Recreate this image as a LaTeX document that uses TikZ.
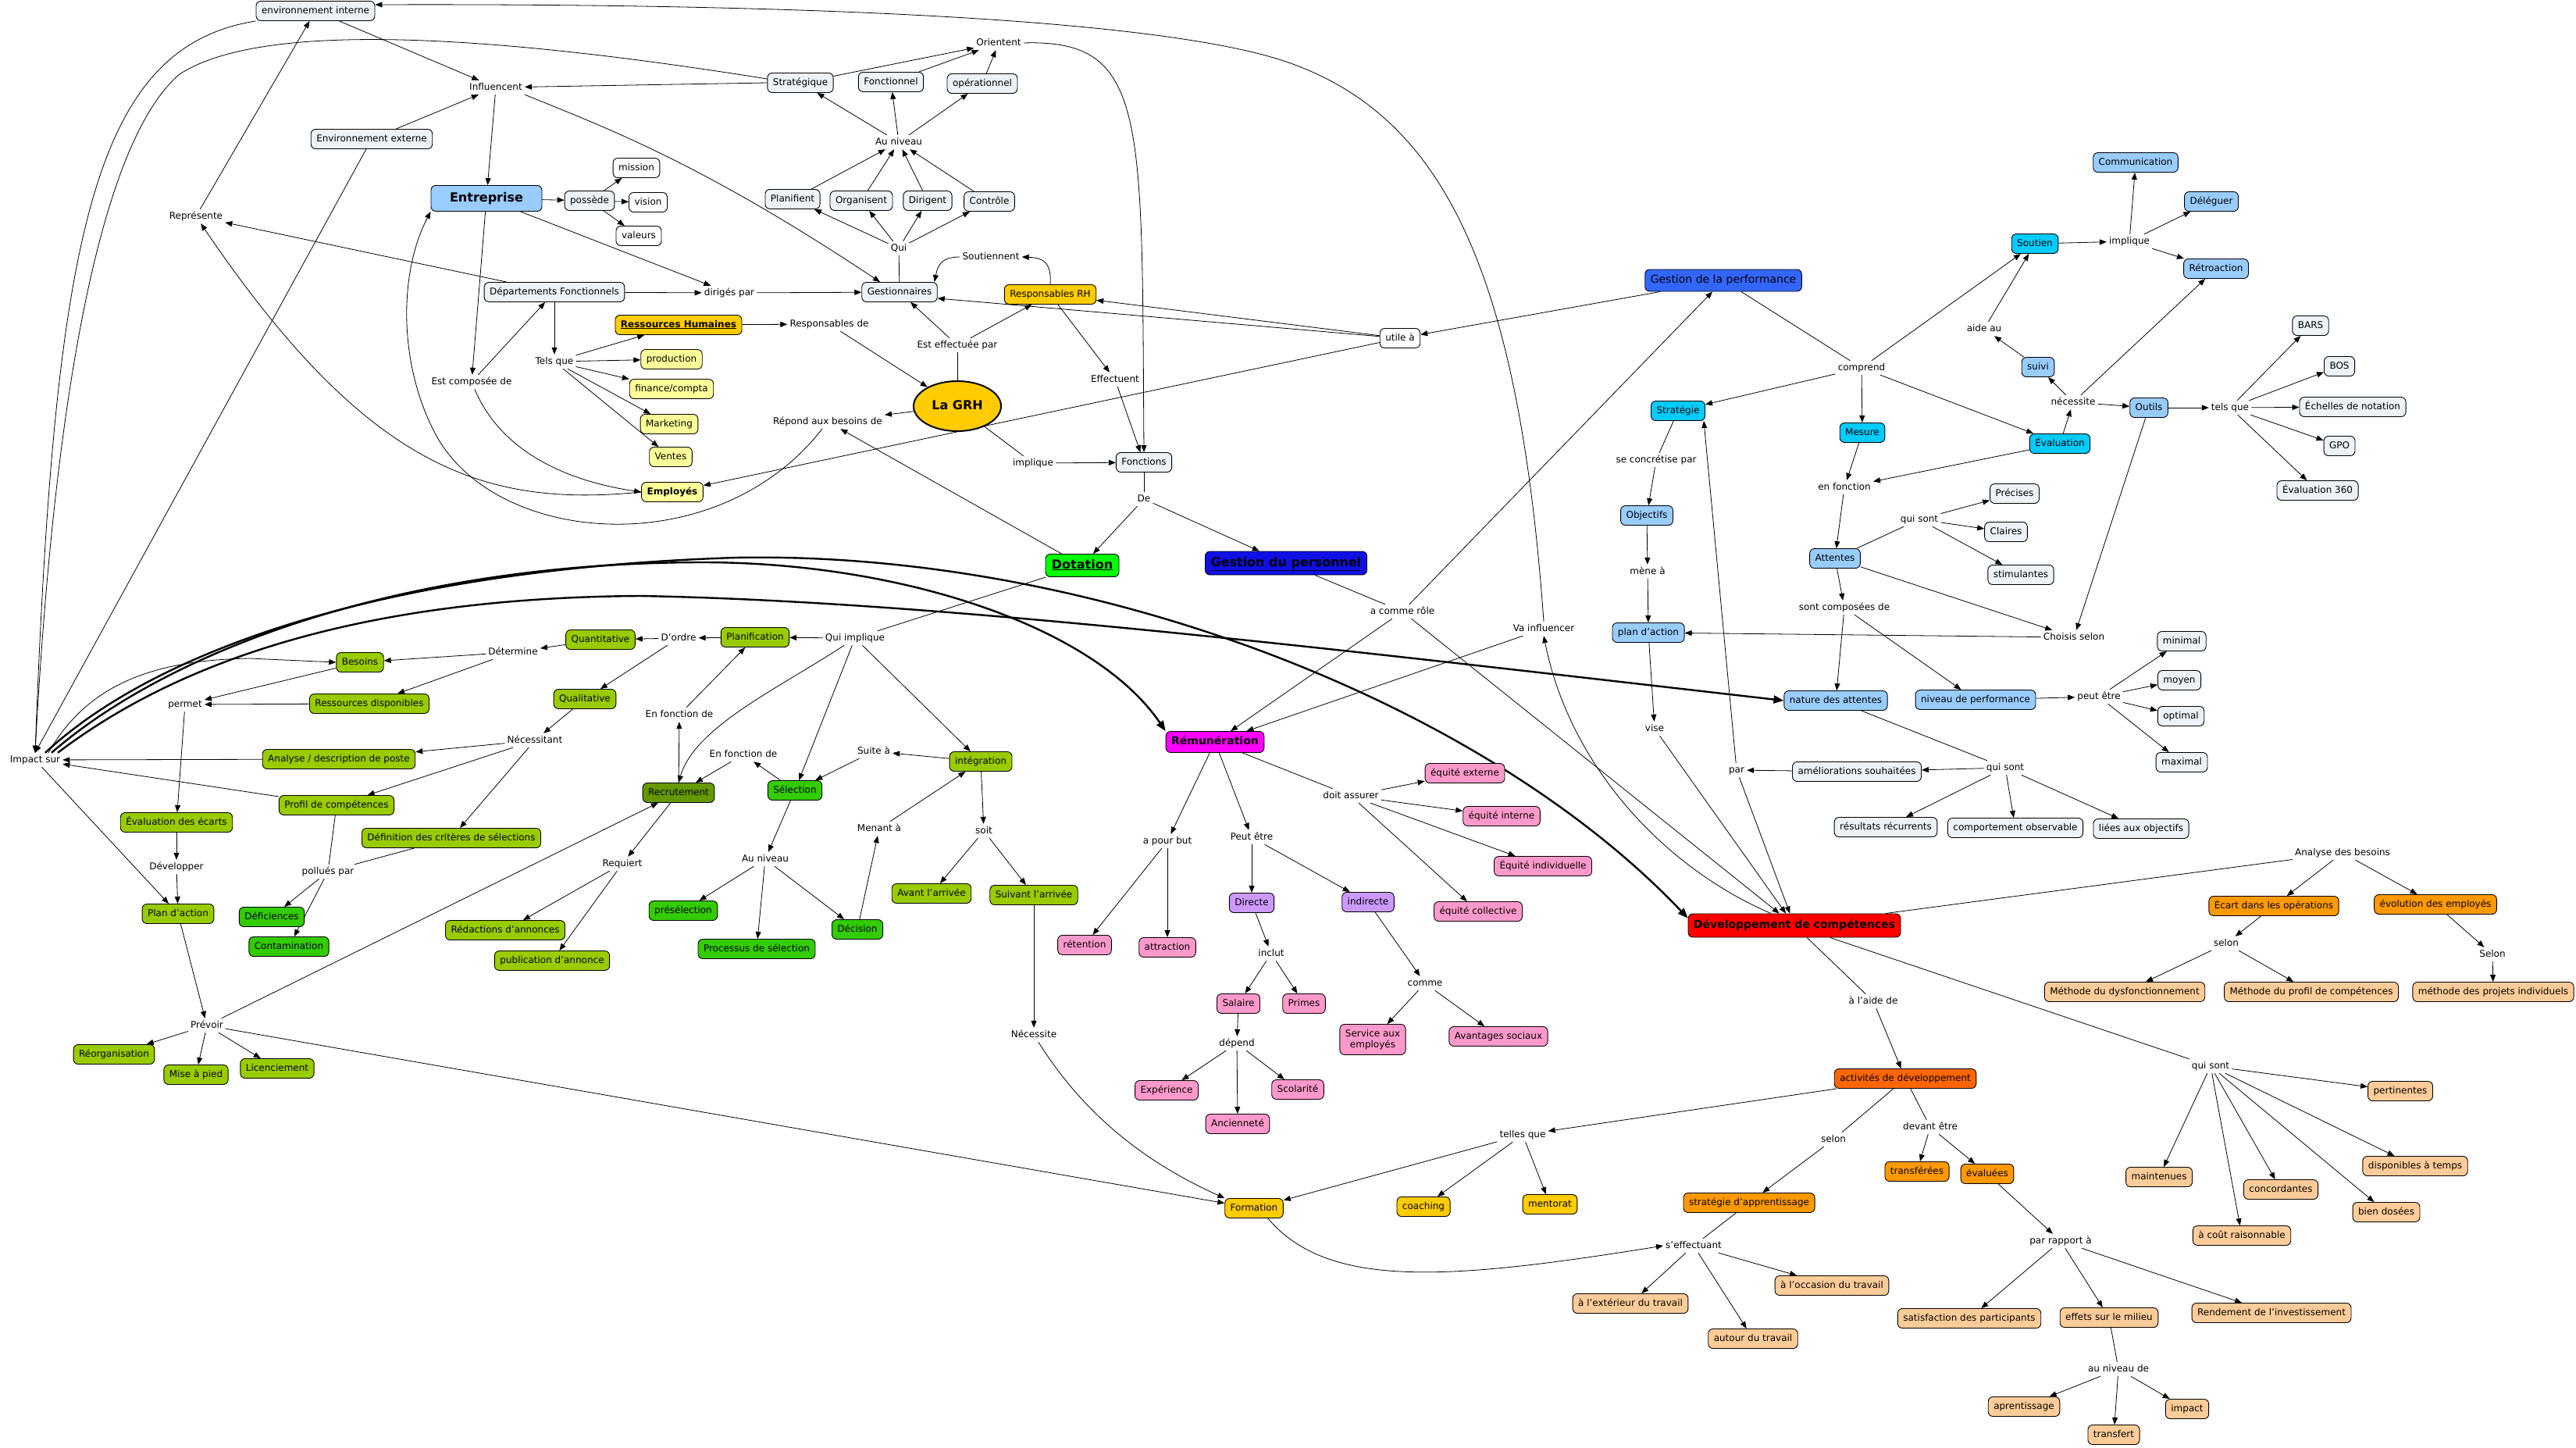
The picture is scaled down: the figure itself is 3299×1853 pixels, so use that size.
\documentclass[tikz,border=0pt]{standalone}
\usepackage{fontspec}
\setmainfont{DejaVu Sans}
\usetikzlibrary{arrows.meta,shapes.geometric}
\pgfdeclarelayer{bg}
\pgfsetlayers{bg,main}

\definecolor{cgray}{RGB}{236,242,245}
\definecolor{cltblue}{RGB}{153,204,255}
\definecolor{cyellow}{RGB}{255,255,153}
\definecolor{cgold}{RGB}{255,204,0}
\definecolor{cyg}{RGB}{153,204,0}
\definecolor{cgreen}{RGB}{51,204,0}
\definecolor{cdkgreen}{RGB}{102,153,0}
\definecolor{cbright}{RGB}{0,255,0}
\definecolor{cnavy}{RGB}{16,16,230}
\definecolor{cperf}{RGB}{51,102,255}
\definecolor{ccyan}{RGB}{0,204,255}
\definecolor{cmagenta}{RGB}{255,0,255}
\definecolor{cred}{RGB}{255,0,0}
\definecolor{cpink}{RGB}{255,153,204}
\definecolor{cpurple}{RGB}{204,153,255}
\definecolor{corange}{RGB}{255,153,0}
\definecolor{cdkorange}{RGB}{255,102,0}
\definecolor{cpeach}{RGB}{255,204,153}

\begin{document}
\begin{tikzpicture}[x=1pt, y=-1pt,
  cpt/.style={draw, rounded corners=6pt, line width=0.9pt, fill=cgray, inner xsep=7pt, inner ysep=6.5pt,
    text height=9pt, text depth=3pt, font=\fontsize{12pt}{14pt}\selectfont},
  lnk/.style={inner sep=3pt, text height=9pt, text depth=3pt, font=\fontsize{12pt}{14pt}\selectfont},
  hdr/.style={font=\bfseries\fontsize{16pt}{18pt}\selectfont, text height=12pt, text depth=4pt},
  mid/.style={font=\fontsize{14pt}{16pt}\selectfont, text height=10.5pt, text depth=3.5pt},
  midb/.style={font=\bfseries\fontsize{14pt}{16pt}\selectfont, text height=10.5pt, text depth=3.5pt},
  arr/.style={line width=0.8pt, -{Triangle[length=9pt,width=7pt]}},
  ln/.style={line width=0.8pt},
  big/.style={line width=2.4pt, -{Triangle[length=13pt,width=10pt]}}]
  \useasboundingbox (0,0) rectangle (3299,1853);

  % Entreprise
  \node[cpt] (envint) at (404,14) {environnement interne};
  \node[lnk] (influ) at (635,112) {Influencent};
  \node[cpt] (envext) at (476,178) {Environnement externe};
  \node[lnk] (repr) at (251,277) {Représente};
  \node[cpt, fill=cltblue, hdr, minimum width=142pt, minimum height=33pt] (entr) at (623,254) {Entreprise};
  \node[cpt] (possede) at (755,257) {possède};
  \node[cpt, fill=white] (mission) at (815,215) {mission};
  \node[cpt, fill=white] (vision) at (830,259) {vision};
  \node[cpt, fill=white] (valeurs) at (818,302) {valeurs};
  \node[cpt] (depf) at (710,374) {Départements Fonctionnels};
  \node[lnk] (diriges) at (934,375) {dirigés par};
  \node[lnk] (telsque) at (710,463) {Tels que};
  \node[lnk] (estcomp) at (604,489) {Est composée de};
  \node[cpt, fill=cgold, font=\bfseries\fontsize{12pt}{14pt}\selectfont] (rh) at (869,416) {\underline{Ressources Humaines}};
  \node[cpt, fill=cyellow] (prod) at (860,460) {production};
  \node[cpt, fill=cyellow] (fin) at (860,498) {finance/compta};
  \node[cpt, fill=cyellow] (mkt) at (857,543) {Marketing};
  \node[cpt, fill=cyellow] (ventes) at (859,585) {Ventes};
  \node[cpt, fill=cyellow, font=\bfseries\fontsize{12pt}{14pt}\selectfont] (employes) at (861,630) {Employés};

  % Gestionnaires et GRH
  \node[lnk] (orientent) at (1279,55) {Orientent};
  \node[cpt] (strat) at (1025,106) {Stratégique};
  \node[cpt] (fonct) at (1141,105) {Fonctionnel};
  \node[cpt] (oper) at (1258,107) {opérationnel};
  \node[lnk] (auniv) at (1151,182) {Au niveau};
  \node[cpt] (planif) at (1015,255) {Planifient};
  \node[cpt] (organ) at (1103,257) {Organisent};
  \node[cpt] (dirig) at (1188,257) {Dirigent};
  \node[cpt] (contr) at (1267,258) {Contrôle};
  \node[lnk] (qui) at (1151,318) {Qui};
  \node[lnk] (soutn) at (1269,329) {Soutiennent};
  \node[cpt] (gest) at (1152,374) {Gestionnaires};
  \node[cpt, fill=cgold] (resprh) at (1345,377) {Responsables RH};
  \node[lnk] (respde) at (1062,415) {Responsables de};
  \node[lnk] (effpar) at (1226,442) {Est effectuée par};
  \node[ellipse, draw, line width=2pt, fill=cgold, hdr, minimum width=112pt, minimum height=64pt, inner sep=0pt] (grh) at (1226,520) {La GRH};
  \node[lnk] (effect) at (1428,486) {Effectuent};
  \node[lnk] (repond) at (1060,540) {Répond aux besoins de};
  \node[lnk] (impl) at (1323,593) {implique};
  \node[cpt] (fonctions) at (1465,592) {Fonctions};
  \node[lnk] (de) at (1465,639) {De};
  \node[cpt, fill=cbright, hdr, minimum width=94pt, minimum height=28pt] (dotation) at (1386,724) {\underline{Dotation}};
  \node[cpt, fill=cnavy, hdr, minimum width=207pt, minimum height=30pt] (gestpers) at (1647,721) {\underline{Gestion du personnel}};

  % Gestion de la performance
  \node[cpt, fill=white] (utile) at (1793,433) {utile à};
  \node[cpt, fill=cperf, mid, minimum height=28pt] (gdp) at (2207,359) {Gestion de la performance};
  \node[lnk] (comprend) at (2384,471) {comprend};
  \node[cpt, fill=ccyan] (strategie) at (2149,526) {Stratégie};
  \node[cpt, fill=ccyan] (mesure) at (2385,554) {Mesure};
  \node[lnk] (concret) at (2121,589) {se concrétise par};
  \node[cpt, fill=cltblue] (comm) at (2735,208) {Communication};
  \node[cpt, fill=cltblue] (deleg) at (2832,258) {Déléguer};
  \node[cpt, fill=ccyan] (soutien) at (2606,312) {Soutien};
  \node[lnk] (implique2) at (2727,309) {implique};
  \node[cpt, fill=cltblue] (retro) at (2838,344) {Rétroaction};
  \node[lnk] (aide) at (2541,421) {aide au};
  \node[cpt, fill=cltblue] (suivi) at (2610,470) {suivi};
  \node[lnk] (necess) at (2655,515) {nécessite};
  \node[cpt, fill=cltblue] (outils) at (2752,522) {Outils};
  \node[lnk] (telsque2) at (2856,522) {tels que};
  \node[cpt] (bars) at (2959,417) {BARS};
  \node[cpt] (bos) at (2996,469) {BOS};
  \node[cpt] (echelles) at (3013,521) {Échelles de notation};
  \node[cpt] (gpo) at (2996,571) {GPO};
  \node[cpt, fill=ccyan] (eval) at (2638,568) {Évaluation};
  \node[cpt] (eval360) at (2968,628) {Évaluation 360};
  \node[cpt, fill=cltblue] (objectifs) at (2109,660) {Objectifs};
  \node[lnk] (menea) at (2110,732) {mène à};
  \node[cpt, fill=cltblue] (planaction2) at (2111,810) {plan d'action};
  \node[lnk] (vise) at (2119,933) {vise};
  \node[lnk] (enfonction) at (2362,624) {en fonction};
  \node[lnk] (quisont1) at (2458,665) {qui sont};
  \node[cpt, fill=cltblue] (attentes) at (2350,715) {Attentes};
  \node[lnk] (composees) at (2362,778) {sont composées de};
  \node[cpt] (precises) at (2580,632) {Précises};
  \node[cpt] (claires) at (2569,681) {Claires};
  \node[cpt] (stimul) at (2588,736) {stimulantes};
  \node[lnk] (choisis) at (2656,816) {Choisis selon};
  \node[cpt, fill=cltblue] (nature) at (2351,897) {nature des attentes};
  \node[cpt, fill=cltblue] (niveau) at (2530,896) {niveau de performance};
  \node[lnk] (peutetre2) at (2688,892) {peut être};
  \node[cpt] (minimal) at (2794,821) {minimal};
  \node[cpt] (moyen) at (2791,871) {moyen};
  \node[cpt] (optimal) at (2793,917) {optimal};
  \node[cpt] (maximal) at (2794,976) {maximal};
  \node[lnk] (par) at (2224,986) {par};
  \node[cpt] (amelio) at (2378,988) {améliorations souhaitées};
  \node[lnk] (quisont2) at (2568,983) {qui sont};
  \node[cpt] (resultats) at (2415,1059) {résultats récurrents};
  \node[cpt] (comport) at (2581,1060) {comportement observable};
  \node[cpt] (liees) at (2742,1061) {liées aux objectifs};
  \node[lnk] (acomme) at (1796,783) {a comme rôle};
  \node[lnk] (vainfl) at (1977,805) {Va influencer};

  % Dotation
  \node[lnk] (impact) at (45,973) {Impact sur};
  \node[cpt, fill=cyg] (quanti) at (769,819) {Quantitative};
  \node[lnk] (determ) at (657,835) {Détermine};
  \node[cpt, fill=cyg] (besoins) at (461,848) {Besoins};
  \node[lnk] (permet) at (237,902) {permet};
  \node[cpt, fill=cyg] (ressdisp) at (473,901) {Ressources disponibles};
  \node[cpt, fill=cyg] (quali) at (749,895) {Qualitative};
  \node[lnk] (necessitant) at (685,948) {Nécessitant};
  \node[cpt, fill=cyg] (analyse) at (434,972) {Analyse / description de poste};
  \node[cpt, fill=cyg] (profil) at (431,1031) {Profil de compétences};
  \node[cpt, fill=cyg] (evalecarts) at (226,1053) {Évaluation des écarts};
  \node[cpt, fill=cyg] (definition) at (578,1073) {Définition des critères de sélections};
  \node[lnk] (develop) at (226,1110) {Développer};
  \node[lnk] (pollues) at (420,1116) {pollués par};
  \node[cpt, fill=cyg] (planaction) at (228,1170) {Plan d'action};
  \node[cpt, fill=cgreen] (deficiences) at (348,1174) {Déficiences};
  \node[cpt, fill=cgreen] (contamination) at (370,1212) {Contamination};
  \node[lnk] (requiert) at (797,1106) {Requiert};
  \node[cpt, fill=cyg] (redactions) at (647,1191) {Rédactions d'annonces};
  \node[cpt, fill=cyg] (publication) at (707,1230) {publication d'annonce};
  \node[cpt, fill=cdkgreen] (recrutement) at (869,1015) {Recrutement};
  \node[lnk] (dordre) at (869,817) {D'ordre};
  \node[cpt, fill=cyg] (planification) at (967,816) {Planification};
  \node[lnk] (quiimpl) at (1095,817) {Qui implique};
  \node[lnk] (enfonc1) at (870,915) {En fonction de};
  \node[lnk] (enfonc2) at (952,966) {En fonction de};
  \node[lnk] (suitea) at (1119,962) {Suite à};
  \node[cpt, fill=cyg] (integration) at (1256,975) {intégration};
  \node[cpt, fill=cgreen] (selection) at (1018,1012) {Sélection};
  \node[lnk] (menant) at (1126,1061) {Menant à};
  \node[lnk] (soit) at (1260,1064) {soit};
  \node[lnk] (auniv2) at (980,1100) {Au niveau};
  \node[cpt, fill=cyg] (avant) at (1193,1144) {Avant l'arrivée};
  \node[cpt, fill=cyg] (suivant) at (1324,1146) {Suivant l'arrivée};
  \node[cpt, fill=cgreen] (preselection) at (875,1166) {présélection};
  \node[cpt, fill=cgreen] (processus) at (969,1215) {Processus de sélection};
  \node[cpt, fill=cgreen] (decision) at (1098,1190) {Décision};
  \node[lnk] (prevoir) at (265,1313) {Prévoir};
  \node[cpt, fill=cyg] (reorg) at (146,1350) {Réorganisation};
  \node[cpt, fill=cyg] (miseapied) at (251,1376) {Mise à pied};
  \node[cpt, fill=cyg] (licenc) at (355,1368) {Licenciement};
  \node[lnk] (necessite3) at (1324,1325) {Nécessite};

  % Remuneration
  \node[cpt, fill=cmagenta, midb] (remun) at (1556,950) {Rémunération};
  \node[lnk] (apourbut) at (1495,1077) {a pour but};
  \node[lnk] (peutetre) at (1603,1072) {Peut être};
  \node[cpt, fill=cpurple] (directe) at (1603,1156) {Directe};
  \node[lnk] (inclut) at (1628,1221) {inclut};
  \node[cpt, fill=cpink] (retention) at (1389,1210) {rétention};
  \node[cpt, fill=cpink] (attraction) at (1495,1213) {attraction};
  \node[cpt, fill=cpink] (eqext) at (1876,990) {équité externe};
  \node[lnk] (doitass) at (1730,1019) {doit assurer};
  \node[cpt, fill=cpink] (eqint) at (1923,1045) {équité interne};
  \node[cpt, fill=cpink] (eqind) at (1976,1109) {Équité individuelle};
  \node[cpt, fill=cpink] (eqcoll) at (1893,1167) {équité collective};
  \node[cpt, fill=cpurple] (indirecte) at (1752,1155) {indirecte};
  \node[cpt, fill=cpink] (salaire) at (1586,1285) {Salaire};
  \node[cpt, fill=cpink] (primes) at (1670,1285) {Primes};
  \node[lnk] (depend) at (1584,1336) {dépend};
  \node[cpt, fill=cpink] (experience) at (1494,1396) {Expérience};
  \node[cpt, fill=cpink] (scolarite) at (1662,1395) {Scolarité};
  \node[cpt, fill=cpink] (anciennete) at (1585,1439) {Ancienneté};
  \node[lnk] (comme) at (1825,1259) {comme};
  \node[cpt, fill=cpink, align=center, text height=23pt, text depth=3pt] (service) at (1758,1331) {Service aux\\employés};
  \node[cpt, fill=cpink] (avantages) at (1919,1327) {Avantages sociaux};

  % Developpement de competences
  \node[cpt, fill=cred, midb, minimum height=30pt] (devcomp) at (2298,1185) {Développement de compétences};
  \node[lnk] (alaide) at (2399,1282) {à l'aide de};
  \node[cpt, fill=cdkorange] (activites) at (2440,1381) {activités de développement};
  \node[lnk] (tellesque) at (1950,1453) {telles que};
  \node[lnk] (selon3) at (2348,1459) {selon};
  \node[lnk] (devant) at (2472,1443) {devant être};
  \node[cpt, fill=cgold] (formation) at (1606,1547) {Formation};
  \node[cpt, fill=cgold] (coaching) at (1823,1545) {coaching};
  \node[cpt, fill=cgold] (mentorat) at (1985,1542) {mentorat};
  \node[cpt, fill=corange] (stratapp) at (2240,1540) {stratégie d'apprentissage};
  \node[cpt, fill=corange] (transferees) at (2455,1500) {transférées};
  \node[cpt, fill=corange] (evaluees) at (2545,1503) {évaluées};
  \node[lnk] (seffect) at (2169,1595) {s'effectuant};
  \node[cpt, fill=cpeach] (occasion) at (2346,1646) {à l'occasion du travail};
  \node[cpt, fill=cpeach] (exterieur) at (2088,1669) {à l'extérieur du travail};
  \node[cpt, fill=cpeach] (autour) at (2245,1714) {autour du travail};
  \node[lnk] (parrapport) at (2639,1589) {par rapport à};
  \node[cpt, fill=cpeach] (satisf) at (2522,1688) {satisfaction des participants};
  \node[cpt, fill=cpeach] (effets) at (2701,1687) {effets sur le milieu};
  \node[cpt, fill=cpeach] (rendement) at (2909,1681) {Rendement de l'investissement};
  \node[lnk] (auniveaude) at (2713,1753) {au niveau de};
  \node[cpt, fill=cpeach] (aprent) at (2592,1801) {aprentissage};
  \node[cpt, fill=cpeach] (impactn) at (2801,1804) {impact};
  \node[cpt, fill=cpeach] (transfert) at (2707,1837) {transfert};
  \node[lnk] (analbes) at (3000,1092) {Analyse des besoins};
  \node[cpt, fill=corange] (ecart) at (2912,1160) {Écart dans les opérations};
  \node[cpt, fill=corange] (evolution) at (3119,1158) {évolution des employés};
  \node[lnk] (selon1) at (2851,1208) {selon};
  \node[lnk] (selon2) at (3192,1222) {Selon};
  \node[cpt, fill=cpeach] (methdys) at (2721,1270) {Méthode du dysfonctionnement};
  \node[cpt, fill=cpeach] (methprof) at (2960,1270) {Méthode du profil de compétences};
  \node[cpt, fill=cpeach] (methproj) at (3193,1270) {méthode des projets individuels};
  \node[lnk] (quisont3) at (2831,1365) {qui sont};
  \node[cpt, fill=cpeach] (pertinentes) at (3074,1397) {pertinentes};
  \node[cpt, fill=cpeach] (maintenues) at (2765,1507) {maintenues};
  \node[cpt, fill=cpeach] (disponibles) at (3093,1493) {disponibles à temps};
  \node[cpt, fill=cpeach] (concordantes) at (2921,1523) {concordantes};
  \node[cpt, fill=cpeach] (biendosees) at (3056,1552) {bien dosées};
  \node[cpt, fill=cpeach] (acout) at (2871,1582) {à coût raisonnable};

  \begin{pgfonlayer}{bg}
  \fill[white] (0,0) rectangle (3299,1853);

  % Entreprise links
  \draw[arr] (envint) -- (influ);
  \draw[arr] (envext) -- (influ);
  \draw[arr] (strat.west) -- (influ);
  \draw[arr] (influ) -- (entr);
  \draw[arr] (influ.south east) .. controls (780,165) and (900,210) .. ([xshift=-25pt]gest.north);
  \draw[arr] (repr) -- (envint);
  \draw[arr] (depf) -- (repr);
  \draw[arr] (employes.west) .. controls (620,650) and (470,600) .. (repr);
  \draw[arr] (entr) -- (possede);
  \foreach \tgt in {mission,vision,valeurs} \draw[arr] (possede) -- (\tgt);
  \draw[arr] (entr) -- (diriges);
  \draw[arr] (depf) -- (diriges);
  \draw[arr] (diriges) -- (gest);
  \draw[arr] (entr) -- (estcomp);
  \draw[arr] (estcomp) -- (depf);
  \draw[arr] (estcomp) .. controls (640,575) and (720,615) .. (employes.west);
  \draw[arr] (depf) -- (telsque);
  \foreach \tgt in {rh,prod,fin,mkt,ventes} \draw[arr] (telsque) -- (\tgt);
  \draw[arr] (rh) -- (respde);
  \draw[arr] (respde) -- (grh);
  \draw[arr] (repond) .. controls (920,720) and (640,700) .. (560,560) .. controls (510,470) and (510,350) .. (entr.south west);

  % into Impact sur
  \draw[arr] (envint.south west) .. controls (120,60) and (70,300) .. (impact.north);
  \draw[arr] ([yshift=5pt]strat.west) .. controls (600,40) and (330,30) .. (230,95) .. controls (130,180) and (70,500) .. (impact.north);
  \draw[arr] (envext) -- (impact.north);
  \draw[arr] (vainfl.north) .. controls (1945,350) and (1850,150) .. (1650,80) .. controls (1450,10) and (800,5) .. ([yshift=8pt]envint.east);

  % Gestionnaires links
  \draw[ln] (gest) -- (qui);
  \foreach \tgt in {planif,organ,dirig,contr} {\draw[arr] (qui) -- (\tgt); \draw[arr] (\tgt) -- (auniv);}
  \foreach \tgt in {strat,fonct,oper} {\draw[arr] (auniv) -- (\tgt); \draw[arr] (\tgt) -- (orientent);}
  \draw[arr] (orientent.east) .. controls (1470,50) and (1462,150) .. (fonctions.north);
  \draw[arr] (resprh.north) .. controls (1347,335) and (1335,330) .. (soutn.east);
  \draw[arr] (soutn.west) .. controls (1205,329) and (1201,340) .. ([xshift=-4pt]gest.north east);
  \draw[ln] (grh) -- (effpar);
  \draw[arr] (effpar) -- (gest);
  \draw[arr] (effpar) -- (resprh);
  \draw[arr] (resprh) -- (effect);
  \draw[arr] (effect) -- (fonctions);
  \draw[arr] (grh) -- (repond);
  \draw[ln] (grh) -- (impl);
  \draw[arr] (impl) -- (fonctions);
  \draw[ln] (fonctions) -- (de);
  \draw[arr] (de) -- (dotation);
  \draw[arr] (de) -- (gestpers);
  \draw[arr] (dotation) -- (repond);
  \draw[arr] (gdp) -- (utile);
  \draw[arr] (utile) -- (resprh);
  \draw[arr] (utile) -- ([yshift=-8pt]gest.east);
  \draw[arr] (utile) -- (employes);

  % Dotation links
  \draw[ln] (dotation) -- (quiimpl);
  \draw[arr] (quiimpl) -- (planification);
  \draw[arr] (quiimpl) .. controls (1000,880) and (890,930) .. (recrutement.north);
  \draw[arr] (quiimpl) -- (selection);
  \draw[arr] (quiimpl) -- (integration);
  \draw[arr] (planification) -- (dordre);
  \draw[arr] (dordre) -- (quanti);
  \draw[arr] (dordre) -- (quali);
  \draw[arr] (quanti) -- (determ);
  \draw[arr] (determ) -- (besoins);
  \draw[arr] (determ) -- (ressdisp);
  \draw[arr] (besoins) -- (permet);
  \draw[arr] (ressdisp) -- (permet);
  \draw[arr] (permet) -- (evalecarts);
  \draw[arr] (evalecarts) -- (develop);
  \draw[arr] (develop) -- (planaction);
  \draw[arr] (quali) -- (necessitant);
  \foreach \tgt in {analyse,profil,definition} \draw[arr] (necessitant) -- (\tgt);
  \draw[arr] (analyse) -- (impact);
  \draw[arr] (profil) -- (impact);
  \draw[arr] (impact) -- (planaction);
  \draw[arr] ([xshift=17pt]impact.north) .. controls (110,880) and (190,845) .. (320,843) -- (besoins.west);
  \draw[ln] (profil) -- (pollues);
  \draw[ln] (definition) -- (pollues);
  \draw[arr] (pollues) -- (deficiences);
  \draw[arr] (pollues) -- (contamination);
  \draw[arr] (planaction) -- (prevoir);
  \foreach \tgt in {reorg,miseapied,licenc,recrutement,formation} \draw[arr] (prevoir) -- (\tgt);
  \draw[arr] (recrutement) -- (enfonc1);
  \draw[arr] (enfonc1) -- (planification);
  \draw[arr] (recrutement) -- (requiert);
  \draw[arr] (requiert) -- (redactions);
  \draw[arr] (requiert) -- (publication);
  \draw[arr] (selection) -- (enfonc2);
  \draw[arr] (enfonc2) -- (recrutement);
  \draw[arr] (integration) -- (suitea);
  \draw[arr] (suitea) -- (selection);
  \draw[arr] (selection) -- (auniv2);
  \foreach \tgt in {preselection,processus,decision} \draw[arr] (auniv2) -- (\tgt);
  \draw[arr] (decision) -- (menant);
  \draw[arr] (menant) -- (integration);
  \draw[arr] (integration) -- (soit);
  \draw[arr] (soit) -- (avant);
  \draw[arr] (soit) -- (suivant);
  \draw[arr] (suivant) -- (necessite3);
  \draw[arr] (necessite3) .. controls (1390,1430) and (1470,1490) .. (formation.north west);

  % thick links from Impact sur
  \draw[big] ([xshift=13pt]impact.north) .. controls (180,850) and (450,730) .. (942,714) .. controls (1400,705) and (1900,900) .. ([yshift=-6pt]devcomp.north west);
  \draw[big] ([xshift=21pt]impact.north) .. controls (220,830) and (520,720) .. (900,720) .. controls (1150,720) and (1400,800) .. (remun.north west);
  \draw[big] ([xshift=29pt]impact.north) .. controls (250,830) and (500,765) .. (820,763) .. controls (1200,770) and (1700,830) .. (nature.west);

  % performance links
  \draw[ln] (gestpers) -- (acomme);
  \draw[arr] (acomme) -- (remun);
  \draw[arr] (acomme) -- (gdp);
  \draw[arr] (acomme) -- (devcomp);
  \draw[arr] ([xshift=-30pt]devcomp.north) .. controls (2130,1110) and (2010,980) .. (vainfl.south);
  \draw[arr] (vainfl) -- (remun);
  \draw[ln] (gdp) -- (comprend);
  \foreach \tgt in {strategie,mesure,eval,soutien} \draw[arr] (comprend) -- (\tgt);
  \draw[ln] (strategie) -- (concret);
  \draw[arr] (concret) -- (objectifs);
  \draw[arr] (objectifs) -- (menea);
  \draw[arr] (menea) -- (planaction2);
  \draw[arr] (planaction2) -- (vise);
  \draw[arr] (vise) -- (devcomp);
  \draw[arr] (par) -- ([xshift=-2pt]strategie.south east);
  \draw[arr] (par) -- (devcomp);
  \draw[arr] (amelio) -- (par);
  \draw[arr] (mesure) -- (enfonction);
  \draw[arr] (eval) -- (enfonction);
  \draw[arr] (enfonction) -- (attentes);
  \draw[ln] (attentes) -- (quisont1);
  \foreach \tgt in {precises,claires,stimul} \draw[arr] (quisont1) -- (\tgt);
  \draw[arr] (attentes) -- (composees);
  \draw[arr] (composees) -- (nature);
  \draw[arr] (composees) -- (niveau);
  \draw[arr] (attentes) -- (choisis);
  \draw[arr] (outils) -- (choisis);
  \draw[arr] (choisis) -- (planaction2);
  \draw[arr] (eval) -- (necess);
  \foreach \tgt in {suivi,outils,retro} \draw[arr] (necess) -- (\tgt);
  \draw[arr] (suivi) -- (aide);
  \draw[arr] (aide) -- (soutien);
  \draw[arr] (soutien) -- (implique2);
  \foreach \tgt in {comm,deleg,retro} \draw[arr] (implique2) -- (\tgt);
  \draw[arr] (outils) -- (telsque2);
  \foreach \tgt in {bars,bos,echelles,gpo,eval360} \draw[arr] (telsque2) -- (\tgt);
  \draw[arr] (niveau) -- (peutetre2);
  \foreach \tgt in {minimal,moyen,optimal,maximal} \draw[arr] (peutetre2) -- (\tgt);
  \draw[ln] (nature) -- (quisont2);
  \foreach \tgt in {amelio,resultats,comport,liees} \draw[arr] (quisont2) -- (\tgt);

  % Remuneration links
  \draw[arr] (remun) -- (apourbut);
  \draw[arr] (apourbut) -- (retention);
  \draw[arr] (apourbut) -- (attraction);
  \draw[arr] (remun) -- (peutetre);
  \draw[arr] (peutetre) -- (directe);
  \draw[arr] (peutetre) -- (indirecte);
  \draw[ln] (remun) -- (doitass);
  \foreach \tgt in {eqext,eqint,eqind,eqcoll} \draw[arr] (doitass) -- (\tgt);
  \draw[arr] (directe) -- (inclut);
  \draw[arr] (inclut) -- (salaire);
  \draw[arr] (inclut) -- (primes);
  \draw[arr] (salaire) -- (depend);
  \foreach \tgt in {experience,anciennete,scolarite} \draw[arr] (depend) -- (\tgt);
  \draw[arr] (indirecte) -- (comme);
  \draw[arr] (comme) -- (service);
  \draw[arr] (comme) -- (avantages);

  % Developpement links
  \draw[ln] (devcomp) -- (alaide);
  \draw[arr] (alaide) -- (activites);
  \draw[arr] (activites) -- (tellesque);
  \foreach \tgt in {formation,coaching,mentorat} \draw[arr] (tellesque) -- (\tgt);
  \draw[ln] (activites) -- (selon3);
  \draw[arr] (selon3) -- (stratapp);
  \draw[ln] (stratapp) -- (seffect);
  \foreach \tgt in {exterieur,autour,occasion} \draw[arr] (seffect) -- (\tgt);
  \draw[arr] ([xshift=-20pt]formation.south east) .. controls (1700,1650) and (1850,1640) .. (seffect.west);
  \draw[ln] (activites) -- (devant);
  \draw[arr] (devant) -- (transferees);
  \draw[arr] (devant) -- (evaluees);
  \draw[arr] (evaluees) -- (parrapport);
  \foreach \tgt in {satisf,effets,rendement} \draw[arr] (parrapport) -- (\tgt);
  \draw[ln] (effets) -- (auniveaude);
  \foreach \tgt in {aprent,transfert,impactn} \draw[arr] (auniveaude) -- (\tgt);
  \draw[ln] (devcomp) -- (analbes);
  \draw[arr] (analbes) -- (ecart);
  \draw[arr] (analbes) -- (evolution);
  \draw[arr] (ecart) -- (selon1);
  \draw[arr] (selon1) -- (methdys);
  \draw[arr] (selon1) -- (methprof);
  \draw[arr] (evolution) -- (selon2);
  \draw[arr] (selon2) -- (methproj);
  \draw[ln] (devcomp) -- (quisont3);
  \foreach \tgt in {pertinentes,maintenues,acout,concordantes,biendosees,disponibles} \draw[arr] (quisont3) -- (\tgt);
  \end{pgfonlayer}
\end{tikzpicture}
\end{document}
